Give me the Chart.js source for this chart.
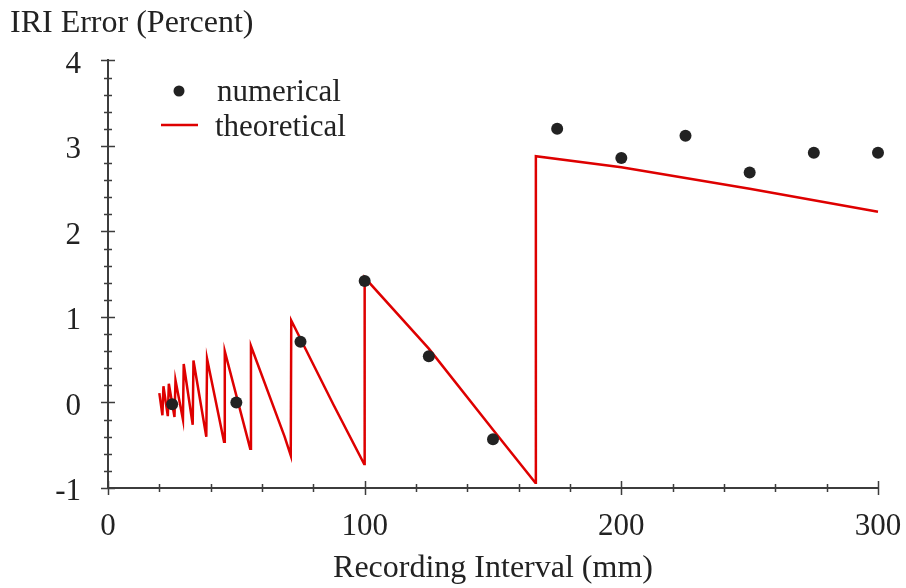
<!DOCTYPE html>
<html>
<head>
<meta charset="utf-8">
<title>IRI Error vs Recording Interval</title>
<script src="https://cdn.jsdelivr.net/npm/chart.js@4/dist/chart.umd.min.js"></script>
<style>
    html, body { margin: 0; padding: 0; background: #fff; }
    #wrap { width: 906px; height: 588px; }
</style>
</head>
<body>
<div id="wrap"><canvas id="iriChart" width="906" height="588"></canvas></div>
<script>
const numericalX = [25, 50, 75, 100, 125, 150, 175, 200, 225, 250, 275, 300];
const numericalY = [-0.02, 0.0, 0.71, 1.42, 0.54, -0.43, 3.20, 2.86, 3.12, 2.69, 2.92, 2.92];

const theoreticalX = [20.0, 21.2, 21.6, 23.3, 23.7, 25.9, 26.3, 29.2, 29.5, 33.0, 33.3, 38.3, 38.6, 45.2, 45.5,
    55.4, 55.7, 68.8, 71.2, 71.4, 87.9, 99.8, 100.0, 125, 150, 166.5, 166.7, 200, 250, 300];
const theoreticalY = [0.11, -0.15, 0.19, -0.16, 0.22, -0.17, 0.26, -0.20, 0.45, -0.26, 0.49, -0.40, 0.51, -0.46, 0.60,
    -0.54, 0.66, -0.40, -0.62, 0.96, -0.03, -0.72, 1.46, 0.63, -0.32, -0.94, 2.88, 2.75, 2.50, 2.23];

const xMajorTicks = [0, 100, 200, 300];
const yMajorTicks = [-1, 0, 1, 2, 3, 4];

const axisColor = "#3c3c3c";
const lineRed = "rgb(222, 0, 0)";
const dotColor = "#222";
const serif = "'Liberation Serif', 'Times New Roman', serif";

function isMajor(value, majors) {
    return majors.some(m => Math.abs(m - value) < 1e-6);
}

// tick marks crossing the axis line, long for labelled ticks
const crossTicks = {
    id: "crossTicks",
    afterDraw(chart) {
        const ctx = chart.ctx;
        const xScale = chart.scales.x;
        const yScale = chart.scales.y;
        const area = chart.chartArea;
        ctx.save();
        ctx.strokeStyle = axisColor;
        ctx.lineWidth = 1.5;
        ctx.beginPath();
        xScale.ticks.forEach(t => {
            const px = Math.round(xScale.getPixelForValue(t.value)) + 0.5;
            const len = isMajor(t.value, xMajorTicks) ? 7 : 4;
            ctx.moveTo(px, area.bottom - len);
            ctx.lineTo(px, area.bottom + len);
        });
        yScale.ticks.forEach(t => {
            const py = Math.round(yScale.getPixelForValue(t.value)) + 0.5;
            const len = isMajor(t.value, yMajorTicks) ? 7 : 4;
            ctx.moveTo(area.left - len, py);
            ctx.lineTo(area.left + len, py);
        });
        ctx.stroke();
        ctx.restore();
    }
};

// legend in the upper left of the plot
const innerLegend = {
    id: "innerLegend",
    afterDraw(chart) {
        const ctx = chart.ctx;
        ctx.save();
        ctx.fillStyle = dotColor;
        ctx.beginPath();
        ctx.arc(179, 91, 5.5, 0, Math.PI * 2);
        ctx.fill();

        ctx.strokeStyle = lineRed;
        ctx.lineWidth = 2.5;
        ctx.beginPath();
        ctx.moveTo(161, 125);
        ctx.lineTo(198, 125);
        ctx.stroke();

        ctx.fillStyle = "#222";
        ctx.font = "31px " + serif;
        ctx.textBaseline = "alphabetic";
        ctx.textAlign = "left";
        ctx.fillText("numerical", 217, 101);
        ctx.fillText("theoretical", 215, 136);
        ctx.restore();
    }
};

document.addEventListener("DOMContentLoaded", () => {
    const numericalPoints = numericalX.map((x, i) => ({ x, y: numericalY[i] }));
    const theoreticalPoints = theoreticalX.map((x, i) => ({ x, y: theoreticalY[i] }));

    const ctx = document.getElementById("iriChart").getContext("2d");
    new Chart(ctx, {
        type: "scatter",
        data: {
            datasets: [{
                label: "numerical",
                data: numericalPoints,
                showLine: false,
                clip: false,
                pointRadius: 6,
                pointHoverRadius: 6,
                pointBackgroundColor: dotColor,
                pointBorderWidth: 0,
                borderColor: dotColor
            }, {
                label: "theoretical",
                data: theoreticalPoints,
                showLine: true,
                clip: false,
                pointRadius: 0,
                borderColor: lineRed,
                borderWidth: 2.5,
                tension: 0
            }]
        },
        options: {
            responsive: false,
            animation: false,
            devicePixelRatio: 1,
            layout: {
                padding: { top: 4, left: 10, right: 28, bottom: 0 }
            },
            scales: {
                x: {
                    type: "linear",
                    min: 0,
                    max: 300,
                    afterFit: scale => {
                        scale.height = 100;
                        // let the layout padding decide the right edge
                        scale.paddingLeft = 0;
                        scale.paddingRight = 0;
                    },
                    grid: { display: true, drawOnChartArea: false, drawTicks: false },
                    border: { display: true, color: axisColor, width: 2 },
                    ticks: {
                        stepSize: 20,
                        autoSkip: false,
                        maxRotation: 0,
                        padding: 20,
                        color: "#222",
                        font: { family: serif, size: 31 },
                        callback: v => isMajor(v, xMajorTicks) ? String(Math.round(v)) : ""
                    },
                    title: {
                        display: true,
                        text: "Recording Interval (mm)",
                        color: "#222",
                        font: { family: serif, size: 32 },
                        padding: { top: 0, bottom: 0 }
                    }
                },
                y: {
                    type: "linear",
                    min: -1,
                    max: 4,
                    afterFit: scale => { scale.width = 98; },
                    grid: { display: true, drawOnChartArea: false, drawTicks: false },
                    border: { display: true, color: axisColor, width: 2 },
                    ticks: {
                        stepSize: 0.2,
                        autoSkip: false,
                        padding: 27,
                        labelOffset: 4,
                        color: "#222",
                        font: { family: serif, size: 31 },
                        callback: v => isMajor(v, yMajorTicks) ? String(Math.round(v)) : ""
                    }
                }
            },
            plugins: {
                legend: { display: false },
                tooltip: { enabled: false },
                title: {
                    display: true,
                    text: "IRI Error (Percent)",
                    align: "start",
                    color: "#222",
                    font: { family: serif, size: 32, weight: "normal" },
                    padding: { top: 0, bottom: 18 }
                }
            }
        },
        plugins: [crossTicks, innerLegend]
    });
});
</script>
</body>
</html>
